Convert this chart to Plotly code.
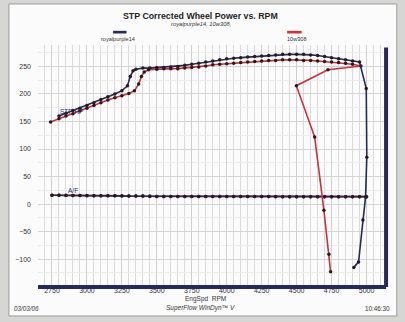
import plotly.graph_objects as go

# royalpurple14: power pull then coast-down points
rp_rpm = [2800, 2850, 2900, 2950, 3000, 3050, 3100, 3150, 3200, 3250, 3290, 3310, 3330, 3350,
          3400, 3450, 3500, 3550, 3600, 3650, 3700, 3750, 3800, 3850, 3900, 3950, 4000, 4050,
          4100, 4150, 4200, 4250, 4300, 4350, 4400, 4450, 4500, 4550, 4600, 4650, 4700, 4750,
          4800, 4850, 4900, 4950, 4998, 5002, 4993, 4974, 4943, 4909]
rp_hp = [160, 165, 170, 174, 179, 184, 190, 195, 200, 206, 215, 232, 242, 245,
         247, 247, 248, 248, 249, 250, 252, 254, 256, 258, 260, 262, 264, 265,
         266, 267, 268, 269, 270, 271, 272, 272, 272, 272, 271, 270, 268, 266,
         264, 262, 260, 258, 210, 85, 13, -29, -105, -115]

# 10w308: power pull then coast-down points
tw_rpm = [2740, 2800, 2850, 2900, 2950, 3000, 3050, 3100, 3150, 3200, 3250, 3300, 3340, 3370,
          3390, 3410, 3440, 3500, 3550, 3600, 3650, 3700, 3750, 3800, 3850, 3900, 3950, 4000,
          4050, 4100, 4150, 4200, 4250, 4300, 4350, 4400, 4450, 4500, 4550, 4600, 4650, 4700,
          4750, 4800, 4850, 4900, 4960, 4724, 4498, 4629, 4695, 4731, 4743]
tw_hp = [149, 155, 160, 164, 169, 174, 179, 184, 189, 193, 197, 201, 206, 218,
         232, 240, 244, 245, 246, 246, 246, 247, 248, 249, 251, 253, 254, 255,
         256, 257, 258, 259, 260, 261, 261, 262, 262, 262, 261, 261, 260, 259,
         258, 257, 256, 254, 251, 244, 215, 122, -11, -91, -123]

# air/fuel ratio traces
af_rpm = [2750, 2800, 2850, 2900, 2950, 3000, 3050, 3100, 3150, 3200, 3250, 3300, 3350, 3400,
          3450, 3500, 3550, 3600, 3650, 3700, 3750, 3800, 3850, 3900, 3950, 4000, 4050, 4100,
          4150, 4200, 4250, 4300, 4350, 4400, 4450, 4500, 4550, 4600, 4650, 4700, 4750, 4800,
          4850, 4900, 4950, 5000]
rp_af = [16, 16, 16, 15.5, 15.5, 15.5, 15, 15, 15, 15, 15, 14.5, 14.5, 14.5,
         14.5, 14, 14, 14, 14, 14, 14, 14, 14, 14, 14, 14, 14, 14,
         14, 14, 14, 14, 14, 13.5, 13.5, 13.5, 13.5, 13.5, 13.5, 13.5, 13.5, 13.5,
         13.5, 13.5, 13.5, 13.5]
tw_af = [16, 16, 15.5, 15.5, 15.5, 15, 15, 15, 15, 15, 14.5, 14.5, 14.5, 14.5,
         14, 14, 14, 14, 14, 14, 14, 14, 14, 14, 14, 14, 14, 14,
         14, 14, 14, 14, 13.5, 13.5, 13.5, 13.5, 13.5, 13.5, 13.5, 13.5, 13.5, 13.5,
         13.5, 13.5, 13.5, 13.5]

x_ticks = [2750, 3000, 3250, 3500, 3750, 4000, 4250, 4500, 4750, 5000]
y_ticks = [-100, -50, 0, 50, 100, 150, 200, 250]

NAVY = "#262a5a"
RED = "#c8333c"
DOT = "#2a1a1e"
FONT = "Liberation Sans, Arial, sans-serif"
TXT = "#333333"

fig = go.Figure()


def add_trace(x, y, color, size=3.5):
    fig.add_trace(go.Scatter(
        x=x, y=y, mode="lines+markers",
        line=dict(color=color, width=1.6),
        marker=dict(color=DOT, size=size, symbol="circle"),
        showlegend=False, hoverinfo="skip"))


add_trace(af_rpm, tw_af, RED)
add_trace(af_rpm, rp_af, NAVY)
add_trace(tw_rpm, tw_hp, RED)
add_trace(rp_rpm, rp_hp, NAVY)

shapes = [
    # white report page behind everything
    dict(type="rect", xref="paper", yref="paper", x0=-0.084, x1=1.037, y0=-0.129, y1=1.171,
         fillcolor="#fbfbfb", line=dict(color="#9a9a9a", width=1), layer="below"),
    # heavy frame on bottom and right of the plot area
    dict(type="line", xref="x domain", yref="y domain", x0=0, x1=1.006, y0=-0.008, y1=-0.008,
         line=dict(color=NAVY, width=4)),
    dict(type="line", xref="x domain", yref="y domain", x0=1.006, x1=1.006, y0=-0.008, y1=0.99,
         line=dict(color=NAVY, width=4)),
    # legend swatches
    dict(type="rect", xref="paper", yref="paper", x0=0.217, x1=0.256, y0=1.048, y1=1.059,
         fillcolor=NAVY, line=dict(width=0)),
    dict(type="rect", xref="paper", yref="paper", x0=0.72, x1=0.762, y0=1.048, y1=1.059,
         fillcolor=RED, line=dict(width=0)),
]


def note(text, x, y, size=7, anchor="center", ref=("paper", "paper"), color=TXT):
    return dict(text=text, xref=ref[0], yref=ref[1], x=x, y=y, xanchor=anchor, yanchor="middle",
                showarrow=False, font=dict(family=FONT, size=size, color=color))


annotations = [
    note("<b>STP Corrected Wheel Power vs. RPM</b>", 0.47, 1.122, size=8.8, color="#1e1e1e"),
    note("<i>royalpurple14, 10w308,</i>", 0.47, 1.087, size=5.8),
    note("royalpurple14", 0.232, 1.024, size=5.6),
    note("10w308", 0.748, 1.024, size=5.6),
    note("STP HP", 2790, 168, size=6.5, anchor="left", ref=("x", "y"), color=NAVY),
    note("A/F", 2850, 25, size=6.5, anchor="left", ref=("x", "y"), color=NAVY),
    note("EngSpd  RPM", 0.485, -0.058, size=6.5),
    note("<i>SuperFlow WinDyn™ V</i>", 0.47, -0.096, size=6.5),
    note("<i>03/03/06</i>", -0.075, -0.096, size=6.3, anchor="left"),
    note("10:46:30", 1.023, -0.096, size=6.3, anchor="right"),
]

fig.update_layout(
    width=405, height=322,
    margin=dict(l=38, r=21, t=45, b=37),
    paper_bgcolor="#d6d6d4",
    plot_bgcolor="#ffffff",
    shapes=shapes,
    annotations=annotations,
    xaxis=dict(range=[2650, 5125], tickvals=x_ticks, ticks="", showline=False,
               showgrid=True, gridcolor="#cfcfcf", gridwidth=1,
               minor=dict(dtick=50, tick0=2650, showgrid=True, gridcolor="#dadada", gridwidth=1),
               tickfont=dict(family=FONT, size=7, color=TXT), zeroline=False),
    yaxis=dict(range=[-147, 289], tickvals=y_ticks, ticks="", showline=False,
               showgrid=True, gridcolor="#d4d4d4", gridwidth=1,
               minor=dict(dtick=25, showgrid=True, gridcolor="#ececec"),
               tickfont=dict(family=FONT, size=7, color=TXT), zeroline=False,
               ticklabelstandoff=6),
)

fig.write_html("out.html")
